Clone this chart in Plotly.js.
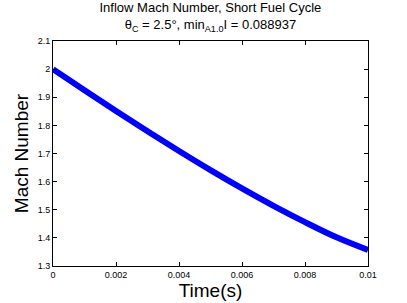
<!DOCTYPE html>
<html><head><meta charset="utf-8">
<script src="https://cdn.plot.ly/plotly-3.0.1.min.js"></script>
<style>body{margin:0;padding:0;background:#fff}#c{width:407px;height:303px}</style>
</head><body><div id="c"></div>
<script>
const time = [0, 0.001, 0.002, 0.003, 0.004, 0.005, 0.006, 0.007, 0.008, 0.009, 0.01];
const mach = [2.000, 1.925, 1.851, 1.779, 1.709, 1.641, 1.576, 1.514, 1.456, 1.402, 1.357];
const xTicks = [0, 0.002, 0.004, 0.006, 0.008, 0.01];
const xTickLabels = ['0', '0.002', '0.004', '0.006', '0.008', '0.01'];
const yTicks = [1.3, 1.4, 1.5, 1.6, 1.7, 1.8, 1.9, 2, 2.1];
const yTickLabels = ['1.3', '1.4', '1.5', '1.6', '1.7', '1.8', '1.9', '2', '2.1'];

const font = 'Liberation Sans, Arial, Helvetica, sans-serif';
Plotly.newPlot('c', [{
  x: time, y: mach, mode: 'lines', line: {color: '#0000ff', width: 6, shape: 'spline'}, hoverinfo: 'none'
}], {
  width: 407, height: 303,
  margin: {l: 53, r: 39, t: 41, b: 37},
  paper_bgcolor: '#fff', plot_bgcolor: '#fff',
  showlegend: false,
  title: {text: 'Inflow Mach Number, Short Fuel Cycle<br>θ<sub>C</sub> = 2.5°, min<sub>A1.0</sub>I = 0.088937',
    font: {family: font, size: 13, color: '#000'}, x: 0.517, xanchor: 'center', y: 0.96, yanchor: 'top'},
  xaxis: {range: [0, 0.01], tickvals: xTicks, ticktext: xTickLabels, ticks: 'inside', ticklen: 4,
    tickcolor: '#000', showline: true, linecolor: '#000', linewidth: 1, mirror: 'ticks', showgrid: false,
    zeroline: false, tickfont: {family: font, size: 9, color: '#000'},
    title: {text: 'Time(s)', font: {family: font, size: 19, color: '#000'}, standoff: 0}},
  yaxis: {range: [1.3, 2.1], tickvals: yTicks, ticktext: yTickLabels, ticks: 'inside', ticklen: 4,
    tickcolor: '#000', showline: true, linecolor: '#000', linewidth: 1, mirror: 'ticks', showgrid: false,
    zeroline: false, tickfont: {family: font, size: 9, color: '#000'},
    title: {text: 'Mach Number', font: {family: font, size: 19, color: '#000'}, standoff: 4}}
}, {staticPlot: true});
</script></body></html>
